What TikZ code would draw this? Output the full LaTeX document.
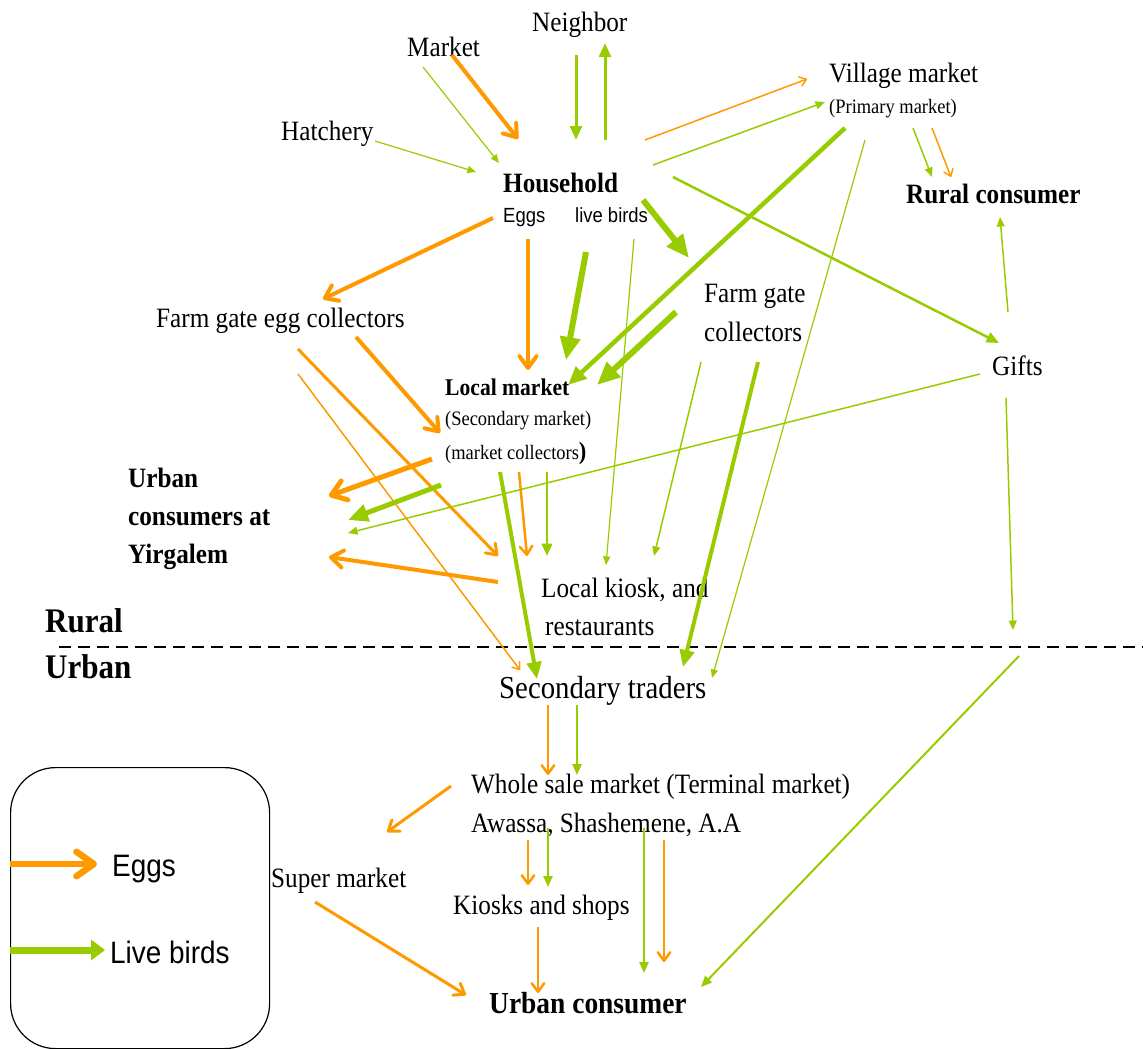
\documentclass[tikz,border=0pt]{standalone}
\usepackage{fontspec}
\setmainfont{Liberation Serif}[FakeStretch=0.9]
\setsansfont{Liberation Sans}[FakeStretch=0.9]
\usetikzlibrary{arrows.meta}
\definecolor{eggorange}{HTML}{FF9900}
\definecolor{birdgreen}{HTML}{99CC00}
\tikzset{
  lbl/.style={anchor=base west, inner sep=0pt, font=\fontsize{28}{30}\selectfont},
  boldlbl/.style={lbl, font=\bfseries\fontsize{28}{30}\selectfont},
  sublbl/.style={anchor=base west, inner sep=0pt, font=\fontsize{20.5}{22}\selectfont},
  egg/.style={draw=eggorange, -{Straight Barb[length=3pt 2.2, width=5pt 3, round]}},
  bird/.style={draw=birdgreen, -{Triangle[length=5pt 3, width=4pt 2.6]}},
}
\begin{document}
\begin{tikzpicture}[x=1pt, y=-1pt]
\useasboundingbox (0,0) rectangle (1143,1049);

% places
\node[lbl] (nb) at (532,32) {Neighbor};
\node[lbl] (mkt) at (407,57) {Market};
\node[lbl] (hat) at (281,140) {Hatchery};
\node[boldlbl] (hh) at (503,192) {Household};
\node[sublbl, font=\sffamily\fontsize{20.5}{22}\selectfont] (hheggs) at (503,222) {Eggs};
\node[sublbl, font=\sffamily\fontsize{20.5}{22}\selectfont] (hhbirds) at (575,222) {live birds};
\node[lbl] (vil) at (829,82) {Village market};
\node[sublbl] (vil2) at (829,113) {(Primary market)};
\node[boldlbl] (rc) at (906,203) {Rural consumer};
\node[lbl] (fgec) at (156,327) {Farm gate egg collectors};
\node[lbl] (fgc) at (704,302) {Farm gate};
\node[lbl] (fgc2) at (704,341) {collectors};
\node[lbl] (gifts) at (992,375) {Gifts};
\node[lbl, font=\bfseries\fontsize{24}{26}\selectfont] (lm) at (445,395) {Local market};
\node[sublbl] (lm2) at (445,425) {(Secondary market)};
\node[sublbl] (lm3) at (445,459) {(market collectors{\bfseries\fontsize{25}{25}\selectfont)}};
\node[boldlbl] (yirg) at (128,487) {Urban};
\node[boldlbl] (yirg2) at (128,525) {consumers at};
\node[boldlbl] (yirg3) at (128,563) {Yirgalem};
\node[lbl] (lk) at (541,597) {Local kiosk, and};
\node[lbl] (lk2) at (545,635) {restaurants};
\node[lbl, font=\bfseries\fontsize{34.5}{36}\selectfont] (rural) at (45,632) {Rural};
\node[lbl, font=\bfseries\fontsize{34.5}{36}\selectfont] (urban) at (45,678) {Urban};
\node[lbl, font=\fontsize{32}{34}\selectfont] (st) at (499,698) {Secondary traders};
\node[lbl] (ws) at (471,793) {Whole sale market (Terminal market)};
\node[lbl] (ws2) at (471,832) {Awassa, Shashemene, A.A};
\node[lbl] (sm) at (271,887) {Super market};
\node[lbl] (ks) at (453,914) {Kiosks and shops};
\node[lbl, font=\bfseries\fontsize{30.5}{32}\selectfont] (uc) at (489,1013) {Urban consumer};

% rural / urban border
\coordinate (border-l) at (59,647);
\coordinate (border-r) at (1143,647);
\draw[dash pattern=on 12pt off 7pt, line width=1.6pt] (border-l) -- (border-r);

% arrow ends, eggs
\coordinate (e-mkt) at (452,55);   \coordinate (e-mkt-hh) at (518,139);
\coordinate (e-hh-vil) at (645,140); \coordinate (e-vil) at (807,79);
\coordinate (e-vil-rc) at (932,128); \coordinate (e-rc) at (951,177);
\coordinate (e-hh-fgec) at (493,218); \coordinate (e-fgec) at (323,299);
\coordinate (e-hh-lm) at (528,239); \coordinate (e-lm) at (528,370);
\coordinate (e-fgec-lm) at (356,337); \coordinate (e-lm2) at (440,433);
\coordinate (e-fgec-lk) at (298,349); \coordinate (e-lk) at (498,556);
\coordinate (e-fgec-st) at (298,374); \coordinate (e-st) at (520,670);
\coordinate (e-lm-yirg) at (432,459); \coordinate (e-yirg) at (329,496);
\coordinate (e-lm-lk) at (519,472); \coordinate (e-lk2) at (527,556);
\coordinate (e-lk-yirg) at (498,582); \coordinate (e-yirg2) at (329,557);
\coordinate (e-st-ws) at (548,705); \coordinate (e-ws) at (548,775);
\coordinate (e-ws-sm) at (451,786); \coordinate (e-sm) at (387,832);
\coordinate (e-ws-ks) at (528,840); \coordinate (e-ks) at (528,885);
\coordinate (e-ws-uc) at (664,840); \coordinate (e-uc) at (664,962);
\coordinate (e-ks-uc) at (538,927); \coordinate (e-uc2) at (538,993);
\coordinate (e-sm-uc) at (315,902); \coordinate (e-uc3) at (466,995);

\draw[egg, line width=4pt] (e-mkt) -- (e-mkt-hh);
\draw[egg, line width=1.5pt] (e-hh-vil) -- (e-vil);
\draw[egg, line width=1.5pt] (e-vil-rc) -- (e-rc);
\draw[egg, line width=4pt] (e-hh-fgec) -- (e-fgec);
\draw[egg, line width=4pt] (e-hh-lm) -- (e-lm);
\draw[egg, line width=4pt] (e-fgec-lm) -- (e-lm2);
\draw[egg, line width=3pt] (e-fgec-lk) -- (e-lk);
\draw[egg, line width=1.5pt] (e-fgec-st) -- (e-st);
\draw[egg, line width=5pt] (e-lm-yirg) -- (e-yirg);
\draw[egg, line width=2.5pt] (e-lm-lk) -- (e-lk2);
\draw[egg, line width=4pt] (e-lk-yirg) -- (e-yirg2);
\draw[egg, line width=2.5pt] (e-st-ws) -- (e-ws);
\draw[egg, line width=3pt] (e-ws-sm) -- (e-sm);
\draw[egg, line width=2.5pt] (e-ws-ks) -- (e-ks);
\draw[egg, line width=2.5pt] (e-ws-uc) -- (e-uc);
\draw[egg, line width=2.5pt] (e-ks-uc) -- (e-uc2);
\draw[egg, line width=3pt] (e-sm-uc) -- (e-uc3);

% arrow ends, live birds
\coordinate (b-mkt) at (423,67);   \coordinate (b-mkt-hh) at (499,163);
\coordinate (b-hat) at (375,141);  \coordinate (b-hat-hh) at (476,172);
\coordinate (b-nb) at (576,55);    \coordinate (b-nb-hh) at (576,140);
\coordinate (b-hh-nb) at (605,140); \coordinate (b-nb2) at (605,43);
\coordinate (b-hh-vil) at (653,165); \coordinate (b-vil) at (825,102);
\coordinate (b-hh-gifts) at (673,177); \coordinate (b-gifts) at (999,343);
\coordinate (b-vil-lm) at (845,128); \coordinate (b-lm) at (568,385);
\coordinate (b-vil-st) at (865,140); \coordinate (b-st) at (712,678);
\coordinate (b-vil-rc) at (913,128); \coordinate (b-rc) at (932,177);
\coordinate (b-gifts-rc) at (1008,312); \coordinate (b-rc2) at (1000,217);
\coordinate (b-gifts-yirg) at (980,374); \coordinate (b-yirg) at (348,533);
\coordinate (b-gifts-dn) at (1006,398); \coordinate (b-border) at (1013,630);
\coordinate (b-border-uc) at (1019,656); \coordinate (b-uc) at (701,987);
\coordinate (b-hh-fgc) at (643,200); \coordinate (b-fgc) at (689,258);
\coordinate (b-hh-lm) at (586,252); \coordinate (b-lm2) at (566,360);
\coordinate (b-hh-lk) at (634,239); \coordinate (b-lk) at (606,565);
\coordinate (b-fgc-lm) at (676,312); \coordinate (b-lm3) at (597,385);
\coordinate (b-fgc-lk) at (701,362); \coordinate (b-lk2) at (654,556);
\coordinate (b-fgc-st) at (758,362); \coordinate (b-st2) at (683,667);
\coordinate (b-lm-yirg) at (441,485); \coordinate (b-yirg2) at (348,520);
\coordinate (b-lm-lk) at (547,472); \coordinate (b-lk3) at (547,556);
\coordinate (b-lm-st) at (500,472); \coordinate (b-st3) at (537,679);
\coordinate (b-st-ws) at (577,705); \coordinate (b-ws) at (577,775);
\coordinate (b-ws-ks) at (548,828); \coordinate (b-ks) at (548,887);
\coordinate (b-ws-uc) at (644,828); \coordinate (b-uc2) at (644,973);

\draw[bird, line width=1.2pt] (b-mkt) -- (b-mkt-hh);
\draw[bird, line width=1.2pt] (b-hat) -- (b-hat-hh);
\draw[bird, line width=3pt] (b-nb) -- (b-nb-hh);
\draw[bird, line width=3pt] (b-hh-nb) -- (b-nb2);
\draw[bird, line width=1.5pt] (b-hh-vil) -- (b-vil);
\draw[bird, line width=2.5pt] (b-hh-gifts) -- (b-gifts);
\draw[bird, line width=4.5pt] (b-vil-lm) -- (b-lm);
\draw[bird, line width=1.2pt] (b-vil-st) -- (b-st);
\draw[bird, line width=1.5pt] (b-vil-rc) -- (b-rc);
\draw[bird, line width=1.5pt] (b-gifts-rc) -- (b-rc2);
\draw[bird, line width=1.5pt] (b-gifts-yirg) -- (b-yirg);
\draw[bird, line width=1.5pt] (b-gifts-dn) -- (b-border);
\draw[bird, line width=2pt] (b-border-uc) -- (b-uc);
\draw[bird, line width=6pt] (b-hh-fgc) -- (b-fgc);
\draw[bird, line width=6pt] (b-hh-lm) -- (b-lm2);
\draw[bird, line width=1.2pt] (b-hh-lk) -- (b-lk);
\draw[bird, line width=6pt] (b-fgc-lm) -- (b-lm3);
\draw[bird, line width=1.5pt] (b-fgc-lk) -- (b-lk2);
\draw[bird, line width=4pt] (b-fgc-st) -- (b-st2);
\draw[bird, line width=5pt] (b-lm-yirg) -- (b-yirg2);
\draw[bird, line width=2.5pt] (b-lm-lk) -- (b-lk3);
\draw[bird, line width=4pt] (b-lm-st) -- (b-st3);
\draw[bird, line width=2pt] (b-st-ws) -- (b-ws);
\draw[bird, line width=2pt] (b-ws-ks) -- (b-ks);
\draw[bird, line width=2pt] (b-ws-uc) -- (b-uc2);

% legend
\node[draw, line width=1.2pt, rounded corners=45pt, minimum width=259pt, minimum height=281pt,
  anchor=north west, inner sep=0pt] (key) at (10,767) {};
\coordinate (key-egg-a) at (10,864);  \coordinate (key-egg-b) at (97,864);
\coordinate (key-bird-a) at (10,950); \coordinate (key-bird-b) at (105,950);
\draw[egg, line width=6.5pt] (key-egg-a) -- (key-egg-b);
\draw[draw=birdgreen, line width=7pt, -{Triangle[length=14pt, width=20pt]}] (key-bird-a) -- (key-bird-b);
\node[lbl, font=\sffamily\fontsize{31}{33}\selectfont] (key-egg) at (112,876) {Eggs};
\node[lbl, font=\sffamily\fontsize{31}{33}\selectfont] (key-bird) at (110,963) {Live birds};
\end{tikzpicture}
\end{document}
